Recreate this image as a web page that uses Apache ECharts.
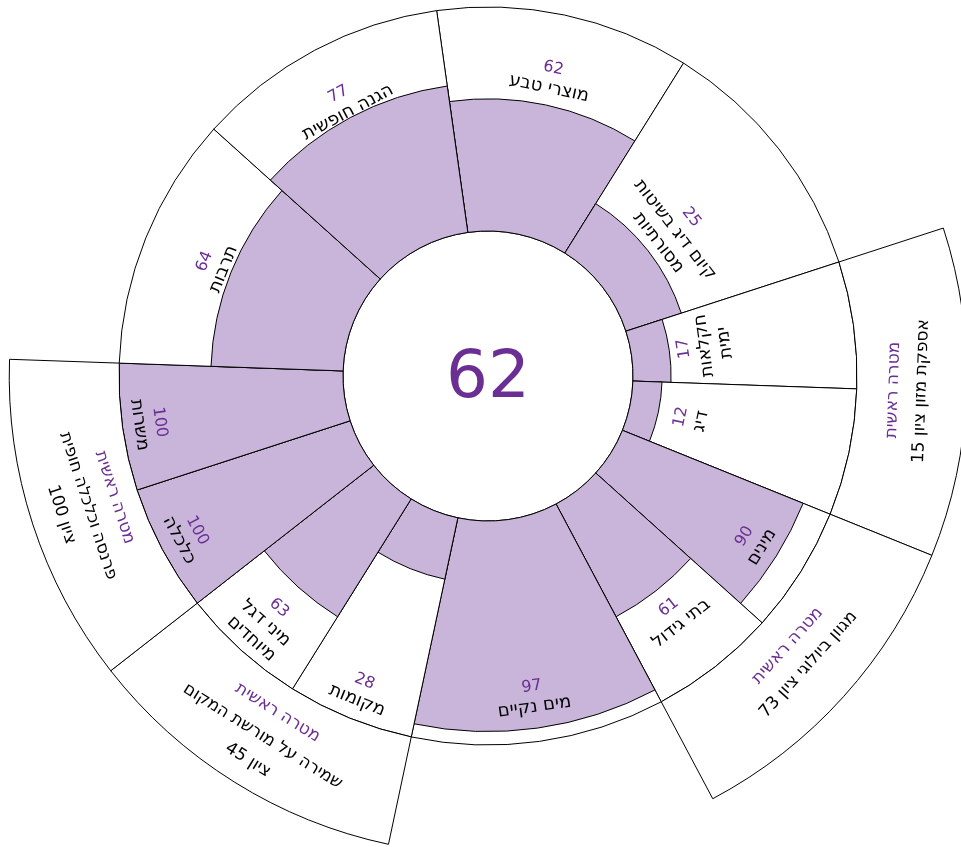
<!DOCTYPE html>
<html lang="he">
<head>
  <meta charset="UTF-8">
  <title>מדד בריאות הים</title>
  <style>html,body{margin:0;background:#fff;}</style>
</head>
<body>
  <div class="wrapper" style="width:961px;height:847px;"></div>

  <script src="https://cdn.jsdelivr.net/npm/echarts@6/dist/echarts.min.js"></script>
  <script>
    const overall = 62
    // petals, clockwise from the top
    const petalNames = ['מוצרי טבע', 'קיום דיג בשיטות\nמסורתיות', 'חקלאות\nימית', 'דיג', 'מינים', 'בתי גידול',
      'מים נקיים', 'מקומות', 'מיני דגל\nמיוחדים', 'כלכלה', 'משרות', 'תרבות', 'הגנה חופשית']
    const petalScores = [62, 25, 17, 12, 90, 61, 97, 28, 63, 100, 100, 64, 77]
    // filled length of each petal
    const petalLevels = [59, 26, 17, 13, 87, 57, 94, 28, 62, 100, 100, 59, 66]
    const petalWeights = [40, 40, 20, 20, 20, 20, 40, 20, 20, 20, 20, 40, 40]
    // main goals made of two sub goals
    const goalTitle = 'מטרה ראשית'
    const goalNames = ['אספקת מזון ציון 15', 'מגוון ביולוגי ציון 73', 'שמירה על מורשת המקום\nציון 45', 'פרנסה וכלכלה חופית\nציון 100']
    const goalFirst = [2, 4, 7, 9]
    const goalLast = [3, 5, 8, 10]

    // label placement (radius axis units)
    const labelAt = [71, 41, 33, 28, 75, 71, 80, 87, 84, 87, 88, 67, 73]
    const goalLabelAt = [122.5, 121.5, 125, 123]
    const ringTop = 149

    const CENTER = [488, 376]
    const PURPLE = '#6b2f94'
    const FILL = '#c9b5da'
    const FONT = 'DejaVu Sans'

    const starts = []
    petalWeights.reduce((acc, w) => { starts.push(acc); return acc + w }, 0)

    const rtl = s => s.split('\n').map(l => '\u202B' + l + '\u202C')

    function textRot(p) {
      let theta = (90 - p[3] * 180 / Math.PI) % 360
      if (theta < 0) theta += 360
      const flip = theta > 75 && theta < 275
      return -(flip ? theta - 180 : theta) * Math.PI / 180
    }

    function sector(c, api, a0, a1, v0, v1, style) {
      const p0 = api.coord([v0, a0])
      const p1 = api.coord([v1, a1])
      return {
        type: 'sector',
        shape: { cx: c.cx, cy: c.cy, r0: p0[2], r: p1[2], startAngle: -p0[3], endAngle: -p1[3], clockwise: true },
        style: style
      }
    }

    function petalItem(params, api) {
      const i = params.dataIndex
      const c = params.coordSys
      const a0 = starts[i], a1 = starts[i] + petalWeights[i]
      const mid = api.coord([labelAt[i], (a0 + a1) / 2])
      const nameLines = petalNames[i].split('\n').map(l => '{n|' + rtl(l)[0] + '}')
      return {
        type: 'group',
        children: [
          sector(c, api, a0, a1, 0, 100, { fill: '#fff', stroke: '#000', lineWidth: 1 }),
          sector(c, api, a0, a1, 0, petalLevels[i], { fill: FILL, stroke: '#000', lineWidth: 1 }),
          {
            type: 'text',
            x: mid[0], y: mid[1],
            rotation: textRot(mid),
            style: {
              text: ['{s|' + petalScores[i] + '}'].concat(nameLines).join('\n'),
              align: 'center', verticalAlign: 'middle',
              rich: {
                s: { fill: PURPLE, fontSize: 16, lineHeight: 20, fontFamily: FONT },
                n: { fill: '#000', fontSize: 18, lineHeight: 21, fontFamily: FONT }
              }
            }
          }
        ]
      }
    }

    function goalItem(params, api) {
      const g = params.dataIndex
      const c = params.coordSys
      const a0 = starts[goalFirst[g]]
      const a1 = starts[goalLast[g]] + petalWeights[goalLast[g]]
      const mid = api.coord([goalLabelAt[g], (a0 + a1) / 2])
      const lines = ['{t|' + rtl(goalTitle)[0] + '}'].concat(rtl(goalNames[g]).map(l => '{n|' + l + '}'))
      return {
        type: 'group',
        children: [
          sector(c, api, a0, a1, 100, ringTop, { fill: '#fff', stroke: '#000', lineWidth: 1 }),
          {
            type: 'text',
            x: mid[0], y: mid[1],
            rotation: textRot(mid),
            style: {
              text: lines.join('\n'),
              align: 'center', verticalAlign: 'middle',
              rich: {
                t: { fill: PURPLE, fontSize: 17, lineHeight: 28, fontFamily: FONT },
                n: { fill: '#000', fontSize: 17, lineHeight: 28, fontFamily: FONT }
              }
            }
          }
        ]
      }
    }

    const echart = echarts.init(document.querySelector('.wrapper'))
    const option = {
      animation: false,
      polar: { center: CENTER, radius: [145, 369] },
      angleAxis: { type: 'value', min: 0, max: 360, startAngle: 98, clockwise: true, show: false },
      radiusAxis: { type: 'value', min: 0, max: 100, show: false },
      graphic: [{
        type: 'text', x: CENTER[0], y: CENTER[1] + 4,
        style: { text: String(overall), align: 'center', verticalAlign: 'middle', fontSize: 66, fontFamily: FONT, fill: PURPLE }
      }],
      series: [{
        type: 'custom',
        coordinateSystem: 'polar',
        silent: true,
        data: petalLevels.map((v, i) => [v, starts[i] + petalWeights[i] / 2]),
        renderItem: petalItem
      }, {
        type: 'custom',
        coordinateSystem: 'polar',
        silent: true,
        data: goalNames.map((n, g) => [ringTop, starts[goalFirst[g]]]),
        renderItem: goalItem
      }]
    }
    echart.setOption(option)
  </script>
</body>
</html>
